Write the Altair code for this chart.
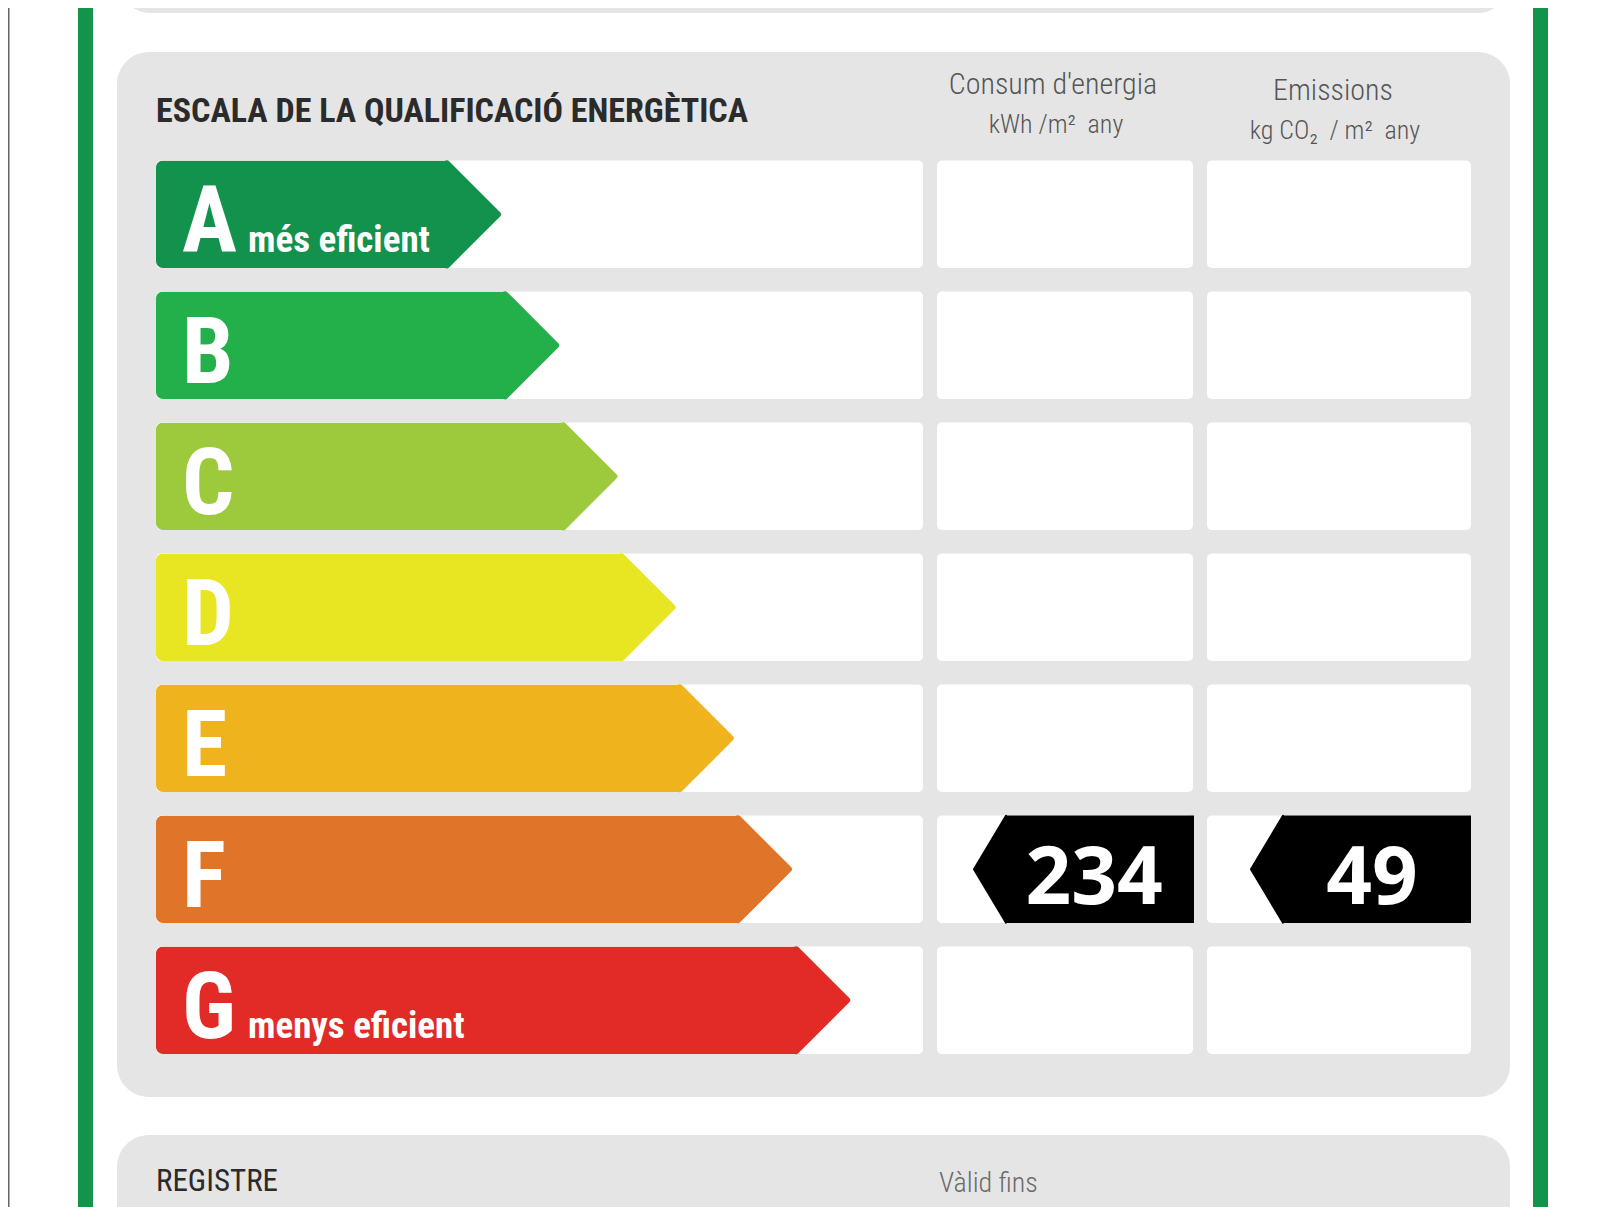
import altair as alt
import pandas as pd

# ---------------- data ----------------
ratings = ["A", "B", "C", "D", "E", "F", "G"]
rating_colors = ["#12924c", "#23b04b", "#9cca3c", "#e8e622", "#efb31e", "#e07428", "#e22a27"]
sub_labels = ["més eficient", "", "", "", "", "", "menys eficient"]

title_text = "ESCALA DE LA QUALIFICACIÓ ENERGÈTICA"
col_titles = ["Consum d'energia", "Emissions"]
col_units = ["kWh /m²\u00a0 any", "kg CO₂\u00a0 / m²\u00a0 any"]
footer_labels = ["REGISTRE", "Vàlid fins"]

value_rating = ["F", "F"]
value_numbers = [234, 49]
value_columns = ["consum", "emissions"]

# ---------------- tables ----------------
scale_df = pd.DataFrame({
    "rating": ratings,
    "color": rating_colors,
    "sub": sub_labels,
    "rank": list(range(1, len(ratings) + 1)),
})
# arrow length in ladder steps: each class is one step longer than the previous
scale_df["arrow_len"] = scale_df["rank"] + 4

values_df = pd.DataFrame({
    "rating": value_rating,
    "value": value_numbers,
    "column": value_columns,
})

W, H = 1584, 1199
COND = "Roboto Condensed, DejaVu Sans Condensed, sans-serif"
NUM = "Open Sans, DejaVu Sans, sans-serif"
PANEL = "#e5e5e5"
BORDER_GREEN = "#14944b"

y_scale = alt.Scale(domain=ratings, range=[152.5, 1046], paddingInner=0.179, paddingOuter=0)
x_scale = alt.Scale(domain=[0, 24.675], range=[148, W], nice=False, zero=False)
Y = alt.Y("rating:N", scale=y_scale, axis=None, sort=ratings)


def box(x, x2, y, y2, color, r=0):
    return alt.Chart(pd.DataFrame({"k": [0]})).mark_rect(color=color, cornerRadius=r).encode(
        x=alt.value(x), x2=alt.value(x2), y=alt.value(y), y2=alt.value(y2)
    )


def txt(s, x, y, size, color, weight="normal", align="left", font=COND):
    return alt.Chart(pd.DataFrame({"t": [s]})).mark_text(
        align=align, baseline="alphabetic", fontSize=size, font=font,
        fontWeight=weight, color=color
    ).encode(text="t:N", x=alt.value(x), y=alt.value(y))


layers = []

# frame: thin page edge and green borders
layers.append(
    alt.Chart(pd.DataFrame({"k": [0]})).mark_rule(color="#666666", strokeWidth=1.5).encode(
        x=alt.value(0.75), y=alt.value(0), y2=alt.value(H)
    )
)
layers.append(box(70, 85, 0, H, BORDER_GREEN))
layers.append(box(1525, 1540, 0, H, BORDER_GREEN))

# panels
layers.append(box(112, 1500, -80, 5, PANEL, 30))
layers.append(box(109, 1502, 44, 1089, PANEL, 32))
layers.append(box(109, 1502, 1127, 1300, PANEL, 32))

# white cells per rating row, three columns
for (x0, x1) in [(148, 915), (929, 1185), (1199, 1463)]:
    layers.append(
        alt.Chart(scale_df).mark_rect(color="white", cornerRadius=5).encode(
            y=Y, x=alt.value(x0), x2=alt.value(x1)
        )
    )

# arrow bodies
layers.append(
    alt.Chart(scale_df).mark_bar(cornerRadiusTopLeft=7, cornerRadiusBottomLeft=7).encode(
        y=Y,
        x=alt.X("arrow_len:Q", scale=x_scale, axis=None),
        color=alt.Color("color:N", scale=None),
    )
)
# arrow tips
layers.append(
    alt.Chart(scale_df).mark_point(
        shape="M0,-1L1,0L0,1Z", size=10404, filled=True, opacity=1,
        strokeWidth=6, strokeJoin="round", strokeOpacity=1, fillOpacity=1
    ).encode(
        y=Y,
        x=alt.X("arrow_len:Q", scale=x_scale, axis=None),
        fill=alt.Fill("color:N", scale=None),
        stroke=alt.Stroke("color:N", scale=None),
    )
)
# letters
layers.append(
    alt.Chart(scale_df).mark_text(
        align="left", baseline="alphabetic", fontSize=92, font=COND,
        fontWeight="bold", color="white", dy=38
    ).encode(y=Y, x=alt.value(174), text="rating:N")
)
# sub labels
layers.append(
    alt.Chart(scale_df).transform_filter("datum.sub != ''").mark_text(
        align="left", baseline="alphabetic", fontSize=37, font=COND,
        fontWeight="bold", color="white", dy=38
    ).encode(y=Y, x=alt.value(240), text="sub:N")
)

# headings
layers.append(txt(title_text, 148, 113.5, 34, "#2b2b2b", weight="bold"))
layers.append(txt(col_titles[0], 1045, 86, 30, "#555555", weight=300, align="center"))
layers.append(txt(col_units[0], 1048, 125, 26, "#555555", weight=300, align="center"))
layers.append(txt(col_titles[1], 1325, 92, 30, "#555555", weight=300, align="center"))
layers.append(txt(col_units[1], 1327, 131, 26, "#555555", weight=300, align="center"))

# value indicators
for col, (body_x0, body_x1, text_x) in zip(value_columns, [(997, 1186, 1086), (1274, 1463, 1364)]):
    sub = alt.Chart(values_df).transform_filter(alt.datum.column == col)
    layers.append(sub.mark_rect(color="black").encode(y=Y, x=alt.value(body_x0), x2=alt.value(body_x1)))
    layers.append(
        sub.mark_point(
            shape="M0,-1L-0.6,0L0,1Z", size=11400, filled=True, opacity=1,
            fill="black", stroke="black", strokeWidth=2, strokeJoin="round"
        ).encode(y=Y, x=alt.value(body_x0 + 1))
    )
    layers.append(
        sub.mark_text(
            align="center", baseline="alphabetic", fontSize=80, font=NUM,
            fontWeight="bold", color="white", dy=35
        ).encode(y=Y, x=alt.value(text_x), text="value:Q")
    )

# footer
layers.append(txt(footer_labels[0], 148, 1183, 31, "#2b2b2b"))
layers.append(txt(footer_labels[1], 931, 1184, 28, "#6a6a6a", weight=300))

chart = alt.layer(*layers).properties(
    width=W, height=H, padding=0,
    autosize=alt.AutoSizeParams(type="none"),
    background="white",
).configure_view(stroke=None)

chart.save("out.html", embed_options={"renderer": "svg", "actions": False})
